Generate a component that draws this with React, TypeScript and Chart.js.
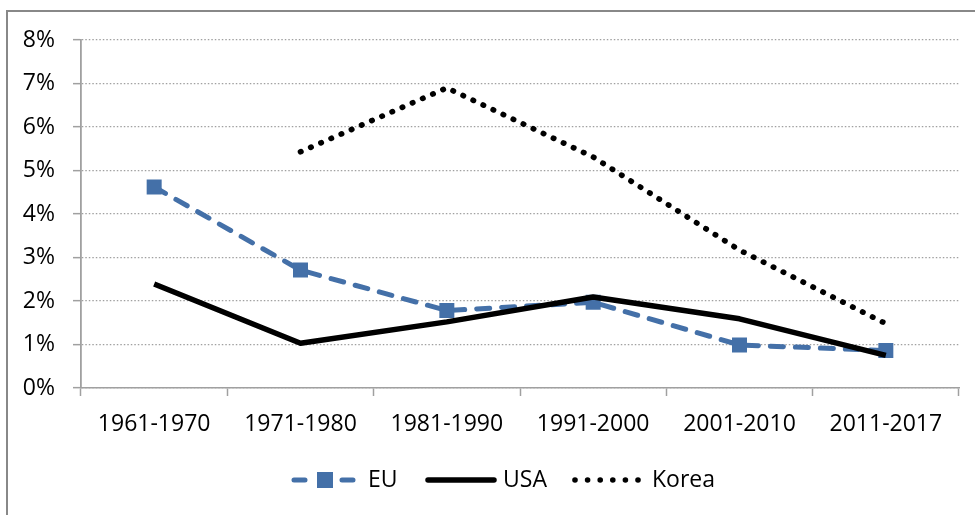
import React, { useEffect, useRef } from "react";
import { Chart, registerables } from "chart.js";

Chart.register(...registerables);

const categories = ["1961-1970", "1971-1980", "1981-1990", "1991-2000", "2001-2010", "2011-2017"];
const euValues = [4.62, 2.71, 1.78, 1.97, 0.99, 0.86];
const usaValues = [2.39, 1.03, 1.52, 2.09, 1.59, 0.75];
const koreaValues: (number | null)[] = [null, 5.43, 6.9, 5.31, 3.17, 1.48];
const yTickLabels = ["0%", "1%", "2%", "3%", "4%", "5%", "6%", "7%", "8%"];
const seriesNames = ["EU", "USA", "Korea"];

const FONT = "'Open Sans', sans-serif";
const EU_COLOR = "#4470a8";
const AXIS_COLOR = "#a0a0a0";

const legendPlugin = {
  id: "customLegend",
  afterDraw(chart: any) {
    const ctx = chart.ctx as CanvasRenderingContext2D;
    const y = 480;
    ctx.save();
    // EU
    ctx.strokeStyle = EU_COLOR;
    ctx.lineWidth = 5;
    ctx.lineCap = "round";
    ctx.beginPath();
    ctx.moveTo(294, y);
    ctx.lineTo(305, y);
    ctx.moveTo(342, y);
    ctx.lineTo(353, y);
    ctx.stroke();
    ctx.fillStyle = EU_COLOR;
    ctx.fillRect(317, y - 8, 16, 16);
    // USA
    ctx.strokeStyle = "#000";
    ctx.lineWidth = 5.5;
    ctx.beginPath();
    ctx.moveTo(428, y);
    ctx.lineTo(494, y);
    ctx.stroke();
    // Korea
    ctx.fillStyle = "#000";
    for (let i = 0; i < 6; i++) {
      ctx.beginPath();
      ctx.arc(575 + i * 12.6, y, 2.8, 0, Math.PI * 2);
      ctx.fill();
    }
    ctx.fillStyle = "#000";
    ctx.font = `23px ${FONT}`;
    ctx.textBaseline = "middle";
    ctx.textAlign = "left";
    ctx.fillText(seriesNames[0], 368, y);
    ctx.fillText(seriesNames[1], 503, y);
    ctx.fillText(seriesNames[2], 652, y);
    ctx.restore();
  },
};

export default function App() {
  const ref = useRef<HTMLCanvasElement>(null);
  useEffect(() => {
    if (!ref.current) return;
    const chart = new Chart(ref.current, {
      type: "line",
      data: {
        labels: categories,
        datasets: [
          {
            label: seriesNames[0],
            data: euValues,
            borderColor: EU_COLOR,
            backgroundColor: EU_COLOR,
            borderWidth: 5,
            borderDash: [13, 12],
            borderCapStyle: "round",
            borderJoinStyle: "round",
            pointStyle: "rect",
            pointRadius: 10.6,
            pointBorderWidth: 0,
            pointBackgroundColor: EU_COLOR,
            tension: 0,
            order: 2,
          },
          {
            label: seriesNames[1],
            data: usaValues,
            borderColor: "#000",
            backgroundColor: "#000",
            borderWidth: 5.5,
            borderCapStyle: "butt",
            borderJoinStyle: "round",
            pointRadius: 0,
            tension: 0,
            order: 1,
          },
          {
            label: seriesNames[2],
            data: koreaValues,
            borderColor: "#000",
            backgroundColor: "#000",
            borderWidth: 5.6,
            borderDash: [0.5, 10.6],
            borderCapStyle: "round",
            pointRadius: 0,
            spanGaps: false,
            tension: 0,
            order: 0,
          },
        ],
      },
      options: {
        animation: false,
        responsive: false,
        devicePixelRatio: 1,
        layout: { padding: { top: 40, right: 16, left: 0, bottom: 0 } },
        plugins: { legend: { display: false }, tooltip: { enabled: false } },
        scales: {
          x: {
            type: "category",
            offset: true,
            grid: {
              offset: true,
              drawOnChartArea: false,
              drawTicks: true,
              tickLength: 8,
              tickColor: AXIS_COLOR,
              tickWidth: 1.5,
            },
            border: { color: AXIS_COLOR, width: 1.5 },
            ticks: {
              color: "#000",
              font: { family: FONT, size: 23 },
              padding: 15,
              maxRotation: 0,
              autoSkip: false,
            },
            afterFit: (s: any) => {
              s.height = 127;
            },
          },
          y: {
            min: 0,
            max: 8,
            ticks: {
              stepSize: 1,
              color: "#000",
              font: { family: FONT, size: 23 },
              padding: 18,
              callback: (v: any) => yTickLabels[Math.round(Number(v))],
            },
            grid: {
              color: AXIS_COLOR,
              lineWidth: 1.3,
              tickLength: 8,
              tickColor: AXIS_COLOR,
              tickWidth: 1.5,
              tickBorderDash: [],
            },
            border: { color: AXIS_COLOR, width: 1.8, dash: [1.5, 2] },
            afterFit: (s: any) => {
              s.width = 81;
            },
          },
        },
      },
      plugins: [legendPlugin],
    } as any);
    return () => chart.destroy();
  }, []);

  return (
    <div style={{ position: "fixed", left: 0, top: 0, width: 975, height: 515, background: "#fff", overflow: "hidden" }}>
      <div
        style={{
          position: "absolute",
          left: 6,
          top: 10,
          width: 1100,
          height: 700,
          border: "2px solid #888",
          boxSizing: "border-box",
        }}
      />
      <canvas ref={ref} width={975} height={515} style={{ position: "absolute", left: 0, top: 0, width: 975, height: 515 }} />
    </div>
  );
}
